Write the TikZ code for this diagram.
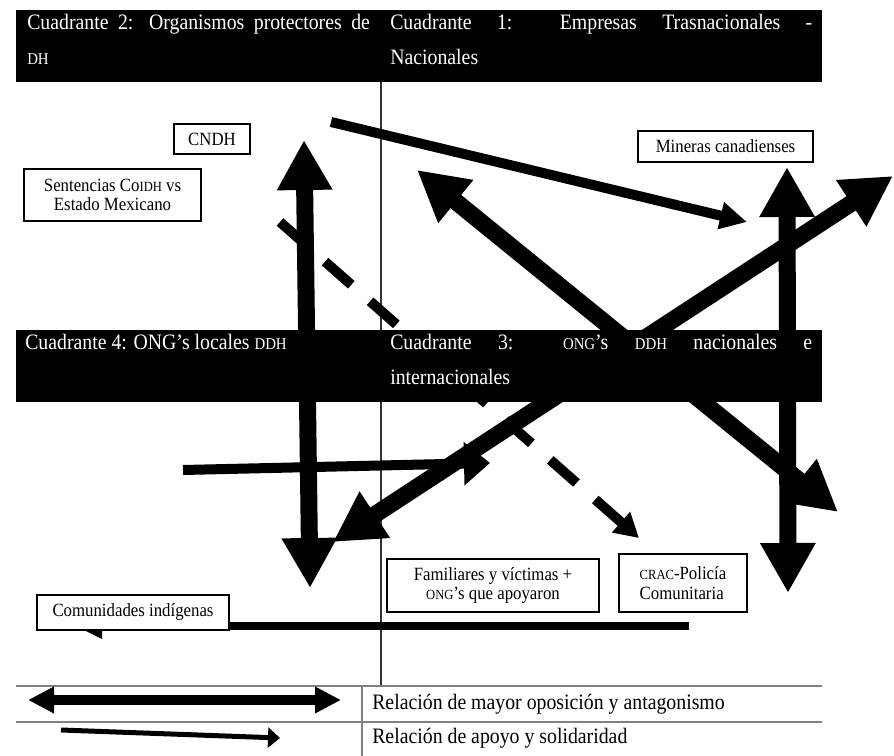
\documentclass[tikz,border=0pt]{standalone}
\usepackage{fontspec}
\setmainfont{Liberation Serif}[FakeStretch=0.9]
\usepackage{graphicx}
\usetikzlibrary{arrows.meta}
\colorlet{barcolor}{black}
\definecolor{rulecolor}{RGB}{128, 128, 128}
\newcommand\barfont{\fontsize{16.5}{26.25}\selectfont}
\newcommand\boxfont{\fontsize{14}{14.6}\selectfont}
\newcommand\sm[1]{\scalebox{0.75}{#1}}
\tikzset{
        bighead/.tip={Triangle[length=37.5pt, width=39pt]},
        oppose/.style={line width=12.75pt, {bighead}-{bighead}},
        support/.style={line width=7.5pt},
        rule/.style={draw=rulecolor, line width=0.9pt},
        boxlabel/.style={draw, line width=0.9pt, fill=white, font=\boxfont, align=center, inner sep=2pt},
        bartext/.style={anchor=base west, inner sep=0pt, text=white, font=\barfont},
        legtext/.style={anchor=west, inner sep=0pt, font=\barfont},
}

\begin{document}
\begin{tikzpicture}[x=0.75pt, y=-0.75pt]
        \useasboundingbox (0, 0) rectangle (894, 756);
        % Rules {{{
        \draw[rule, draw=black!80] (381, 82) -- (381, 686);
        \draw[rule] (16, 686) -- (822, 686) (16, 722) -- (822, 722) (362, 686) -- (362, 756);
        % }}}
        % End points {{{
        \coordinate (cndhUp) at (304, 140);
        \coordinate (cndhDown) at (310, 588);
        \coordinate (minUp) at (787, 167);
        \coordinate (minDown) at (788, 593);
        \coordinate (nwTip) at (417, 170);
        \coordinate (seTip) at (838, 512);
        \coordinate (neTip) at (893, 176);
        \coordinate (swTip) at (333, 542);
        \coordinate (apoyoStart) at (331, 122);
        \coordinate (apoyoEnd) at (747, 222);
        \coordinate (ongStart) at (183, 470);
        \coordinate (ongEnd) at (490, 463);
        \coordinate (dashStart) at (280, 222);
        \coordinate (dashEnd) at (639, 538);
        \coordinate (comStart) at (689, 626);
        \coordinate (comEnd) at (75, 626);
        % }}}
        % Arrows {{{
        \draw[oppose] (cndhDown) -- (cndhUp);
        \draw[oppose] (minDown) -- (minUp);
        \draw[oppose] (seTip) -- (nwTip);
        \draw[oppose] (swTip) -- (neTip);
        \draw[support, -{Triangle[length=20.25pt, width=19.5pt]}] (apoyoStart) -- (apoyoEnd);
        \draw[support, -{Triangle[length=19.5pt, width=31.5pt]}] (ongStart) -- (ongEnd);
        \draw[support, dash pattern=on 26.25pt off 18.75pt, -{Triangle[length=18pt, width=19.5pt]}] (dashStart) -- (dashEnd);
        \draw[line width=6pt, -{Triangle[length=20.25pt, width=18pt]}] (comStart) -- (comEnd);
        % }}}
        % Quadrant bars {{{
        \fill[barcolor] (16, 10) rectangle (822, 82);
        \fill[barcolor] (16, 330) rectangle (822, 402);
        \node[bartext] (q2) at (27, 30) {\parbox[t]{257pt}{\makebox[257pt][s]{Cuadrante 2: Organismos protectores de}\\\sm{DH}}};
        \node[bartext] (q1) at (390, 30) {\parbox[t]{316.5pt}{\makebox[316.5pt][s]{Cuadrante 1: Empresas Trasnacionales -}\\Nacionales}};
        \node[bartext] (q4) at (25, 350) {Cuadrante 4: ONG’s locales \sm{DDH}};
        \node[bartext] (q3) at (390, 350) {\parbox[t]{316.5pt}{\makebox[316.5pt][s]{Cuadrante 3: \sm{ONG}’s \sm{DDH} nacionales e}\\internacionales}};
        % }}}
        % Actors {{{
        \node[boxlabel, minimum width=57pt, minimum height=22.5pt] (cndh) at (212, 139) {CNDH};
        \node[boxlabel, minimum width=132.75pt, minimum height=39pt] (coidh) at (112.5, 195) {Sentencias Co\sm{IDH} vs\\Estado Mexicano};
        \node[boxlabel, minimum width=131.25pt, minimum height=23.25pt] (mineras) at (725.5, 146.5) {Mineras canadienses};
        \node[boxlabel, minimum width=159pt, minimum height=39.75pt] (familiares) at (493, 585.5) {Familiares y víctimas +\\\sm{ONG}’s que apoyaron};
        \node[boxlabel, minimum width=96pt, minimum height=43.5pt, align=left] (crac) at (683, 583) {\sm{CRAC}-Policía\\Comunitaria};
        \node[boxlabel, minimum width=144pt, minimum height=26.25pt] (comunidades) at (133, 612.5) {Comunidades indígenas};
        % }}}
        % Legend {{{
        \coordinate (legOpA) at (28, 700);
        \coordinate (legOpB) at (341, 700);
        \coordinate (legApA) at (61, 730);
        \coordinate (legApB) at (280, 738);
        \draw[line width=7.5pt, {Triangle[length=19.5pt, width=18.75pt]}-{Triangle[length=19.5pt, width=18.75pt]}] (legOpA) -- (legOpB);
        \draw[line width=3.75pt, -{Triangle[length=9pt, width=15pt]}] (legApA) -- (legApB);
        \node[legtext] (legOp) at (372, 704) {Relación de mayor oposición y antagonismo};
        \node[legtext] (legAp) at (372, 738) {Relación de apoyo y solidaridad};
        % }}}
\end{tikzpicture}
\end{document}
